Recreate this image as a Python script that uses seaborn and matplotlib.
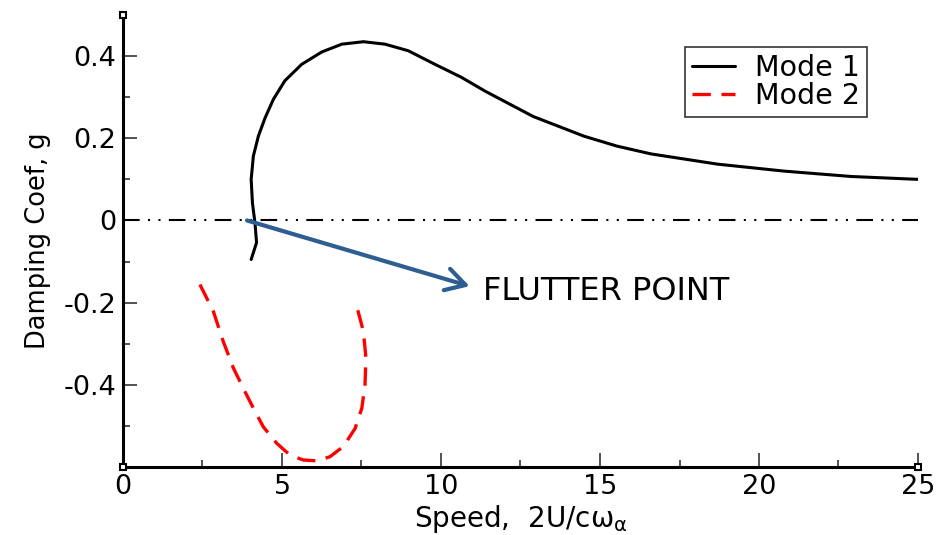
import matplotlib
matplotlib.use("Agg")
import matplotlib.pyplot as plt
import seaborn as sns
import pandas as pd

# ---- data ----
mode1_speed = [4.03, 4.20, 4.15, 4.07, 4.03, 4.10, 4.26, 4.47, 4.73, 5.09, 5.62, 6.25,
               6.88, 7.56, 8.24, 8.97, 9.81, 10.65, 11.38, 12.9, 14.5, 15.53,
               16.6, 18.7, 20.8, 22.9, 25.0]
mode1_g = [-0.095, -0.054, -0.006, 0.043, 0.100, 0.157, 0.206, 0.250, 0.295, 0.340,
           0.380, 0.410, 0.429, 0.435, 0.429, 0.413, 0.380, 0.348, 0.315, 0.253,
           0.205, 0.181, 0.162, 0.137, 0.120, 0.107, 0.100]

mode2_speed = [2.42, 2.84, 3.15, 3.47, 3.78, 4.10, 4.41, 4.83, 5.25, 5.67, 6.09, 6.51,
               6.93, 7.30, 7.51, 7.61, 7.64, 7.56, 7.35]
mode2_g = [-0.156, -0.221, -0.294, -0.359, -0.408, -0.457, -0.502, -0.542, -0.571,
           -0.583, -0.585, -0.575, -0.550, -0.506, -0.457, -0.400, -0.335, -0.270, -0.209]

x_major = [0, 5, 10, 15, 20, 25]
x_major_labels = ["0", "5", "10", "15", "20", "25"]
x_minor = [2.5, 7.5, 12.5, 17.5, 22.5]
y_major = [-0.4, -0.2, 0.0, 0.2, 0.4]
y_major_labels = ["-0.4", "-0.2", "0", "0.2", "0.4"]
y_minor = [-0.5, -0.3, -0.1, 0.1, 0.3]
x_limits = (0, 25)
y_limits = (-0.6, 0.5)

flutter_point = (3.9, 0.0)
arrow_end = (10.9, -0.16)
flutter_text_pos = (11.32, -0.172)
flutter_text = "FLUTTER POINT"

series_labels = ["Mode 1", "Mode 2"]

# ---- styling ----
sns.set_style("ticks")
plt.rcParams["font.family"] = ["DejaVu Sans"]
plt.rcParams["axes.unicode_minus"] = False
for k in ("text.color", "axes.labelcolor", "xtick.color", "ytick.color",
          "xtick.labelcolor", "ytick.labelcolor"):
    plt.rcParams[k] = "black"

fig = plt.figure(figsize=(9.37, 5.35), dpi=100)
ax = fig.add_axes([123 / 937, (535 - 467) / 535, 795 / 937, 452 / 535])

df1 = pd.DataFrame({"speed": mode1_speed, "g": mode1_g})
df2 = pd.DataFrame({"speed": mode2_speed, "g": mode2_g})

# zero reference line (dash-dot-dot)
ax.axhline(0, color="black", lw=1.5, dashes=(8, 4, 1, 4, 1, 4), zorder=1)

sns.lineplot(data=df1, x="speed", y="g", sort=False, estimator=None, color="black",
             lw=2.2, label=series_labels[0], ax=ax, zorder=3)
sns.lineplot(data=df2, x="speed", y="g", sort=False, estimator=None, color="#ff0000",
             lw=2.4, label=series_labels[1], ax=ax, zorder=3)
ax.lines[-1].set_dashes((5.5, 3.2))
for ln in ax.lines:
    ln.set_solid_joinstyle("round")
    ln.set_dash_joinstyle("round")

# arrow + annotation
ax.annotate("", xy=arrow_end, xytext=flutter_point,
            arrowprops=dict(arrowstyle="->,head_length=0.7,head_width=0.4",
                            lw=3, color="#2E5E91", mutation_scale=20,
                            shrinkA=0, shrinkB=0), zorder=4)
ax.text(flutter_text_pos[0], flutter_text_pos[1], flutter_text, fontsize=23,
        va="center", ha="left", color="black")

ax.set_xlim(*x_limits)
ax.set_ylim(*y_limits)
ax.set_xticks(x_major)
ax.set_xticklabels(x_major_labels)
ax.set_xticks(x_minor, minor=True)
ax.set_yticks(y_major)
ax.set_yticklabels(y_major_labels)
ax.set_yticks(y_minor, minor=True)

ax.tick_params(which="major", direction="in", length=10, width=1.3, color="#444",
               labelsize=19.5, pad=5, labelcolor="black")
ax.tick_params(which="minor", direction="in", length=5, width=1.3, color="#444")

sns.despine(ax=ax)
for s in ("left", "bottom"):
    ax.spines[s].set_linewidth(2.2)
    ax.spines[s].set_color("black")

# corner squares (axis end markers)
ax.plot([x_limits[0], x_limits[0], x_limits[1]], [y_limits[0], y_limits[1], y_limits[0]],
        "s", ms=5, mfc="white", mec="black", mew=1.5, clip_on=False, zorder=6)

ax.set_xlabel("Speed,  2U/c\u03c9$_{\\mathrm{\\alpha}}$", fontsize=20, labelpad=2,
              color="black")
ax.set_ylabel("Damping Coef, g", fontsize=18.5, labelpad=9, color="black")

leg = ax.legend(loc="upper right", bbox_to_anchor=(0.936, 0.929), fontsize=20.5,
                frameon=True, fancybox=False, edgecolor="#333333", framealpha=1,
                handlelength=1.5, handletextpad=0.7, labelspacing=0.0,
                borderpad=0.25, borderaxespad=0)
leg.get_frame().set_linewidth(1.2)
for t in leg.get_texts():
    t.set_color("black")

fig.savefig("out.png", dpi=100)
